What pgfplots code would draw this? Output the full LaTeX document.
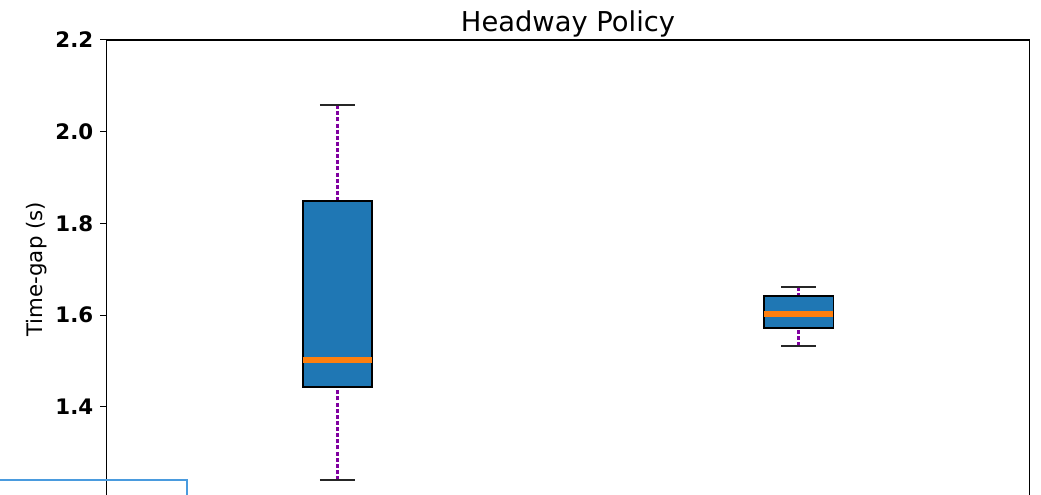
\documentclass[border=0pt]{standalone}
\usepackage{fontspec}
\setmainfont{DejaVu Sans}
\usepackage{pgfplots}
\pgfplotsset{compat=1.18}
\usepgfplotslibrary{statistics}
\definecolor{mplblue}{HTML}{1F77B4}
\definecolor{mplorange}{HTML}{FF7F0E}
\definecolor{wpurple}{RGB}{128,0,160}
\definecolor{uiblue}{RGB}{74,155,222}
\begin{document}
\begin{tikzpicture}
\useasboundingbox (-79.875pt,2.625pt) rectangle (700.875pt,373.875pt);
\clip (-79.875pt,2.625pt) rectangle (700.875pt,373.875pt);
\begin{axis}[
  at={(0,0)}, anchor=south west,
  scale only axis,
  width=692.25pt, height=343.875pt,
  xmin=0.5, xmax=2.5, ymin=1.2, ymax=2.2,
  xtick=\empty,
  ytick={1.4,1.6,1.8,2.0,2.2},
  yticklabels={1.4,1.6,1.8,2.0,2.2},
  tick align=outside,
  ytick pos=left,
  major tick length=4.5pt,
  every tick/.style={black, line width=0.75pt},
  axis line style={black, line width=0.8pt},
  yticklabel style={font=\fontsize{16}{19}\selectfont\bfseries, inner sep=0pt, anchor=east, xshift=-5.25pt},
  title={Headway Policy},
  title style={font=\fontsize{20.5}{24}\selectfont, at={(0.5,1)}, anchor=base, yshift=0pt},
  ylabel={Time-gap (s)},
  ylabel style={font=\fontsize{16}{19}\selectfont, at={(axis description cs:-0.0693,0.5)}, anchor=base, rotate=0},
  boxplot/draw direction=y,
  boxplot/box extend=0.15,
  boxplot/whisker extend=0.075,
  boxplot/every box/.style={draw=black, line width=1.3pt, fill=mplblue},
  boxplot/every median/.style={mplorange, line width=4.5pt},
  boxplot/draw/lower whisker/.code={
    \draw[wpurple, line width=2.6pt, dash pattern=on 3pt off 1.6pt]
      (boxplot box cs:\pgfplotsboxplotvalue{lower whisker},0.5) --
      (boxplot box cs:\pgfplotsboxplotvalue{lower quartile},0.5);
    \draw[black!85, line width=1.2pt]
      (boxplot whisker cs:\pgfplotsboxplotvalue{lower whisker},0) --
      (boxplot whisker cs:\pgfplotsboxplotvalue{lower whisker},1);
  },
  boxplot/draw/upper whisker/.code={
    \draw[wpurple, line width=2.6pt, dash pattern=on 3pt off 1.6pt]
      (boxplot box cs:\pgfplotsboxplotvalue{upper whisker},0.5) --
      (boxplot box cs:\pgfplotsboxplotvalue{upper quartile},0.5);
    \draw[black!85, line width=1.2pt]
      (boxplot whisker cs:\pgfplotsboxplotvalue{upper whisker},0) --
      (boxplot whisker cs:\pgfplotsboxplotvalue{upper whisker},1);
  },
]
\addplot+[boxplot prepared={draw position=1, lower whisker=1.240, lower quartile=1.443, median=1.502, upper quartile=1.849, upper whisker=2.058}, draw=black, solid] coordinates {};
\addplot+[boxplot prepared={draw position=2, lower whisker=1.533, lower quartile=1.572, median=1.602, upper quartile=1.642, upper whisker=1.661}, draw=black, solid] coordinates {};
\end{axis}
\draw[uiblue, line width=1.6pt] (-90pt,-20pt) rectangle (60.375pt,13.875pt);
\end{tikzpicture}
\end{document}
